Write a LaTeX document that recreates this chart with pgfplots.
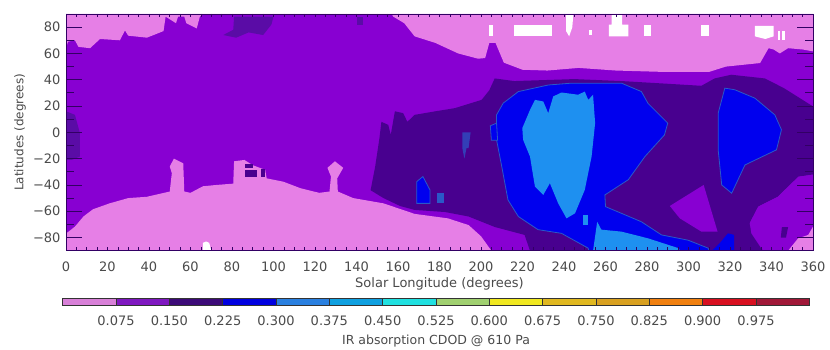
\documentclass[border=0pt]{standalone}
\usepackage{pgfplots}
\pgfplotsset{compat=1.18}
\usepackage{fontspec}
\setmainfont{DejaVu Sans}
\definecolor{cpink}{HTML}{E67FE6}
\definecolor{cpurp}{HTML}{8800D2}
\definecolor{cdark}{HTML}{48008F}
\definecolor{cblot}{HTML}{5A0CA6}
\definecolor{cblue}{HTML}{0000EE}
\definecolor{cedge}{HTML}{2A58C8}
\definecolor{csky}{HTML}{1E90F0}
\definecolor{ctxt}{HTML}{4A4A4A}
\definecolor{b1}{HTML}{D880D8}
\definecolor{b2}{HTML}{7F18C0}
\definecolor{b3}{HTML}{3C0A78}
\definecolor{b4}{HTML}{0000E0}
\definecolor{b5}{HTML}{2A80E0}
\definecolor{b6}{HTML}{10A0E0}
\definecolor{b7}{HTML}{20E0E0}
\definecolor{b8}{HTML}{A0D070}
\definecolor{b9}{HTML}{F0E820}
\definecolor{b10}{HTML}{E0B820}
\definecolor{b11}{HTML}{D8A020}
\definecolor{b12}{HTML}{F08010}
\definecolor{b13}{HTML}{D81020}
\definecolor{b14}{HTML}{A01838}
\pgfplotsset{
  reg/.style={fill=#1,draw=none,line width=0pt,mark=none},
  edg/.style={fill=#1,draw=cedge,line width=0.8pt,mark=none},
}
\begin{document}
\begin{tikzpicture}[x=1pt,y=1pt]
\useasboundingbox (0,0) rectangle (830,350);
\begin{axis}[
  at={(66pt,99.3pt)},anchor=south west,
  scale only axis,width=747pt,height=236.7pt,
  xmin=0,xmax=360,ymin=-90,ymax=90,
  axis on top,
  axis line style={cdark!70!black,line width=0.8pt},
  xtick={0,20,...,360},
  ytick={-80,-60,...,80},
  yticklabels={−80,−60,−40,−20,0,20,40,60,80},
  minor y tick num=1,
  xtick pos=bottom,ytick pos=both,tick align=inside,
  x tick style={draw=none},
  y tick style={cdark!70!black,line width=0.8pt},
  major tick length=16pt,minor tick length=8pt,
  ticklabel style={font=\fontsize{13}{14}\selectfont,text=ctxt},
  /pgf/number format/assume math mode=true,
  xticklabel style={yshift=-8pt},
  yticklabel style={xshift=-2pt},
  xlabel={Solar Longitude (degrees)},
  x label style={at={(axis description cs:0.5,0)},anchor=center,yshift=-33.5pt,font=\fontsize{13}{15}\selectfont,text=ctxt},
  ylabel={Latitudes (degrees)},
  y label style={at={(axis description cs:0,0.5)},anchor=center,yshift=46pt,font=\fontsize{12}{14}\selectfont,text=ctxt},
]
% base
\addplot[reg=cpurp] coordinates {(0,-90)(360,-90)(360,90)(0,90)} --cycle;
% soft darker blotches
\addplot[reg=cblot] coordinates {(0,16)(4.3,13.3)(6.7,-0.6)(6.7,-18.4)(2.7,-21)(0,-21)} --cycle;
\addplot[reg=cblot] coordinates {(75.8,74)(80.6,78)(81,88)(100,88)(99,82)(95,74)(88,76)(82,72)} --cycle;
\addplot[reg=cblot] coordinates {(140,88)(143,88)(143,82)(140,82)} --cycle;
% dark purple region
\addplot[reg=cdark] coordinates {(146.8,-44)(149,-26)(151,-5)(152,8)(155.3,5.7)(156.5,-2)(158.5,16)(162.5,14.6)(164.5,8)(168,13.3)(178,16)(187.4,18.4)(200.3,24.7)(204,32)(206.6,41)(216,39)(245,40.5)(267.7,39)(284,37.5)(306.2,35.4)(312.6,41)(320.6,43.8)(336.8,41)(346,33.6)(360,19.7)(360,-32)(353,-33.7)(343,-49)(333.6,-56.5)(329.5,-69)(333.6,-82)(338,-90)(223.6,-90)(221,-78)(206.7,-72)(194,-64)(182.7,-60.6)(168,-59)(161,-56)(153,-50)} --cycle;
% purple inside the dark region
\addplot[reg=cpurp] coordinates {(291,-56)(307.3,-40)(314,-75.5)(306.2,-75.5)(295.8,-65.4)} --cycle;
\addplot[reg=cpurp] coordinates {(360,-32.4)(353,-33.7)(343,-49)(333.6,-56.5)(329.5,-69)(330.3,-76.8)(335,-88)(336,-90)(360,-90)} --cycle;
\addplot[reg=cdark] coordinates {(344.5,-80)(345,-72)(348,-72)(347,-80)} --cycle;
% north cap
\addplot[reg=cpink] coordinates {(0,64)(1,69)(4.3,70)(6,65)(11.6,64)(16.4,71)(26,70)(28.4,77.5)(30,73.5)(39,72)(47,77)(48,88)(53,83)(54,88)(57,88)(58,83)(63,79)(64.5,88)(66,90)(157,90)(157.7,88)(163,83)(168,73)(178,68)(189,60)(198.6,56)(202,56.5)(204,68)(207,68)(211,53)(220,47.6)(232,47)(247,49)(265,47)(287,46)(310,46)(318,50)(334.5,52.7)(338.6,64)(341,63)(344,60)(348,64)(355,63)(360,61.6)(360,90)(0,90)} --cycle;
% south cap
\addplot[reg=cpink] coordinates {(0,-90)(0,-77)(4.3,-71.7)(8.4,-64)(13,-58.5)(21,-54)(30,-50)(39,-49)(50,-45)(51,-31)(50,-26)(52,-20)(56.5,-23.5)(57,-45)(60,-46)(66,-41)(72.6,-40)(80.6,-39)(81,-22)(86,-21)(90,-25)(96,-28.5)(96.7,-35)(104.7,-37.5)(113,-42.5)(122,-46)(127,-45)(127.7,-33.6)(126,-27)(129.6,-22)(133.6,-27)(130.7,-35)(131,-45)(138.4,-50)(153,-54)(168,-62)(184,-65.4)(194,-70.5)(200,-79)(205,-90)} --cycle;
\addplot[reg=cpink] coordinates {(360,-90)(360,-71.7)(357.7,-78)(352.8,-80.6)(348,-90)} --cycle;
\addplot[reg=cdark] coordinates {(86.5,-24)(90,-24)(90,-27)(86.5,-27)} --cycle;
\addplot[reg=cdark] coordinates {(86.5,-29)(92,-29)(92,-34)(86.5,-34)} --cycle;
\addplot[reg=cdark] coordinates {(94,-28)(96,-28)(96,-34)(94,-34)} --cycle;
% white gaps
\addplot[reg=white] coordinates {(66,-90)(66,-84)(67.5,-83)(69,-84)(70,-90)} --cycle;
\addplot[reg=white] coordinates {(204,82)(206,82)(206,73)(204,73)} --cycle;
\addplot[reg=white] coordinates {(216,82)(234,82)(234,73)(216,73)} --cycle;
\addplot[reg=white] coordinates {(241,90)(244.5,90)(244,80)(242.5,73)(241,77)} --cycle;
\addplot[reg=white] coordinates {(252,78)(253.4,78)(253.4,74)(252,74)} --cycle;
\addplot[reg=white] coordinates {(263,90)(268,90)(268,82)(271,82)(271,73)(261.6,73)(261.6,82)(263,82)} --cycle;
\addplot[reg=white] coordinates {(278.7,82)(282,82)(282,73)(278.7,73)} --cycle;
\addplot[reg=white] coordinates {(306,82)(310,82)(310,73)(306,73)} --cycle;
\addplot[reg=white] coordinates {(332,81)(341,81)(341,73)(337,71)(332,73)} --cycle;
\addplot[reg=white] coordinates {(343,77)(344.3,77)(344.3,70)(343,70)} --cycle;
\addplot[reg=white] coordinates {(345,77)(346.3,77)(346.3,70)(345,70)} --cycle;
% blue regions
\addplot[edg=cblue] coordinates {(207.5,13.3)(210.7,22.2)(218,31)(232.4,36)(243.6,37.4)(267.7,37.4)(277.3,31)(280.5,22)(290,7)(288.4,-2)(279,-18.4)(271,-36)(259.7,-47.6)(260,-56.5)(267.7,-61.6)(277.3,-68)(287,-78)(299.8,-82)(309.4,-88)(310,-90)(252,-90)(251.6,-88)(238.8,-76.8)(227.5,-74)(218,-64)(213,-51.4)(210,-26)(207.5,-5.7)} --cycle;
\addplot[edg=cblue] coordinates {(204.5,5)(207.5,7)(208,-6)(205,-6)} --cycle;
\addplot[edg=cblue] coordinates {(317.5,33.6)(322.3,32.4)(332,26)(341.6,13.3)(344.8,2)(342.4,-13.3)(327.2,-24.8)(320.8,-46.3)(316,-40)(314.3,-13.3)(314.3,14.6)} --cycle;
\addplot[reg=cblue] coordinates {(311.3,-90)(315,-84.4)(319,-76.8)(322,-78)(322,-90)} --cycle;
\addplot[edg=cblue] coordinates {(169,-37.5)(172,-33.6)(175.4,-43.8)(175.4,-54)(169,-54)} --cycle;
\addplot[reg=cedge] coordinates {(179,-46)(182,-46)(182,-54)(179,-54)} --cycle;
\addplot[reg=cedge!70!cdark] coordinates {(191,0)(195,0)(194,-12)(193,-12)(192,-20)(191,-12)} --cycle;
% light blue regions
\addplot[reg=csky] coordinates {(219.9,3.2)(223.6,17)(226,24.7)(230,23.5)(232.4,14.6)(234.8,27.3)(238.8,30.3)(246.8,28.6)(250,31)(251.7,24.7)(254,28.6)(255,7)(253.3,-18.4)(250,-43.8)(245.3,-61.6)(241.2,-65.4)(237.2,-54)(233.2,-38.7)(230,-47.6)(226,-41.3)(223.6,-18.4)(220.3,-5.7)} --cycle;
\addplot[reg=csky] coordinates {(249,-63)(251.6,-63)(251.6,-70.5)(249,-70.5)} --cycle;
\addplot[reg=csky] coordinates {(254,-90)(256,-68)(258,-74)(267.7,-75.5)(280.5,-80.6)(295,-88)(296,-90)} --cycle;
\end{axis}
% short x ticks, top and bottom
\begin{axis}[
  at={(66pt,99.3pt)},anchor=south west,
  scale only axis,width=747pt,height=236.7pt,
  xmin=0,xmax=360,ymin=-90,ymax=90,
  axis line style={draw=none},
  ytick=\empty,
  xtick={0,20,...,360},xticklabels={},
  minor x tick num=3,
  xtick pos=both,tick align=inside,
  major tick length=3.5pt,minor tick length=3.5pt,
  x tick style={cdark!70!black,line width=0.6pt},
]
\end{axis}
\begin{axis}[
  at={(62.7pt,45pt)},anchor=south west,
  scale only axis,width=746.6pt,height=6.3pt,
  xmin=0,xmax=1.05,ymin=0,ymax=1,
  axis on top,
  axis line style={black!80,line width=0.7pt},
  ytick=\empty,
  xtick={0.075,0.15,0.225,0.3,0.375,0.45,0.525,0.6,0.675,0.75,0.825,0.9,0.975},
  xticklabels={0.075,0.150,0.225,0.300,0.375,0.450,0.525,0.600,0.675,0.750,0.825,0.900,0.975},
  xtick pos=bottom,tick align=inside,major tick length=6.3pt,
  tick style={black!80,line width=0.5pt},
  ticklabel style={font=\fontsize{13}{14}\selectfont,text=ctxt},
  xticklabel style={yshift=-7pt},
  xlabel={IR absorption CDOD @ 610 Pa},
  x label style={at={(axis description cs:0.5,0)},anchor=center,yshift=-36pt,font=\fontsize{12.5}{14}\selectfont,text=ctxt},
]
\addplot[reg=b1] coordinates {(0,0)(0.075,0)(0.075,1)(0,1)} --cycle;
\addplot[reg=b2] coordinates {(0.075,0)(0.15,0)(0.15,1)(0.075,1)} --cycle;
\addplot[reg=b3] coordinates {(0.15,0)(0.225,0)(0.225,1)(0.15,1)} --cycle;
\addplot[reg=b4] coordinates {(0.225,0)(0.3,0)(0.3,1)(0.225,1)} --cycle;
\addplot[reg=b5] coordinates {(0.3,0)(0.375,0)(0.375,1)(0.3,1)} --cycle;
\addplot[reg=b6] coordinates {(0.375,0)(0.45,0)(0.45,1)(0.375,1)} --cycle;
\addplot[reg=b7] coordinates {(0.45,0)(0.525,0)(0.525,1)(0.45,1)} --cycle;
\addplot[reg=b8] coordinates {(0.525,0)(0.6,0)(0.6,1)(0.525,1)} --cycle;
\addplot[reg=b9] coordinates {(0.6,0)(0.675,0)(0.675,1)(0.6,1)} --cycle;
\addplot[reg=b10] coordinates {(0.675,0)(0.75,0)(0.75,1)(0.675,1)} --cycle;
\addplot[reg=b11] coordinates {(0.75,0)(0.825,0)(0.825,1)(0.75,1)} --cycle;
\addplot[reg=b12] coordinates {(0.825,0)(0.9,0)(0.9,1)(0.825,1)} --cycle;
\addplot[reg=b13] coordinates {(0.9,0)(0.975,0)(0.975,1)(0.9,1)} --cycle;
\addplot[reg=b14] coordinates {(0.975,0)(1.05,0)(1.05,1)(0.975,1)} --cycle;
\end{axis}
\end{tikzpicture}
\end{document}
